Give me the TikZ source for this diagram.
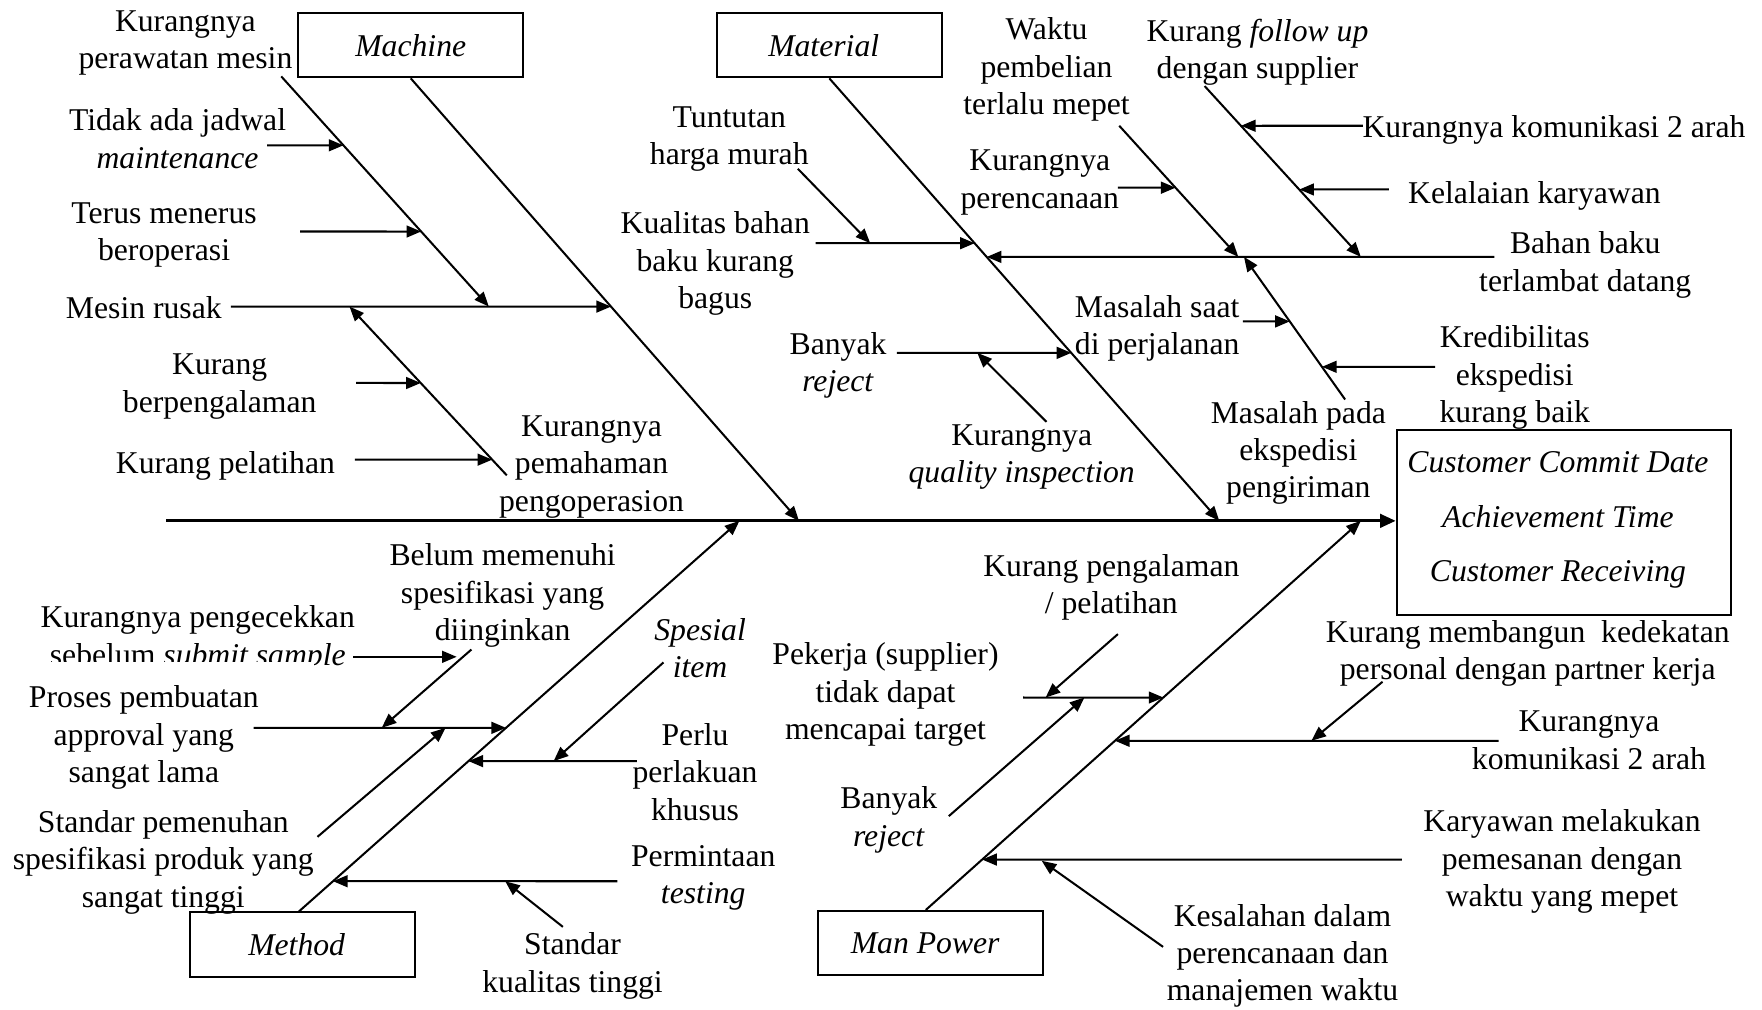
\documentclass[tikz,border=0pt]{standalone}
\usepackage{fontspec}
\setmainfont{Liberation Serif}
\usetikzlibrary{arrows.meta,calc}
\newcommand{\lblfont}{\fontsize{28.2}{33.3}\selectfont}
\newcommand{\efffont}{\fontsize{28.2}{48.5}\selectfont}
\begin{document}
\begin{tikzpicture}[x=1pt,y=-1pt,
  lbl/.style={align=center,inner sep=0pt,font=\lblfont,yshift=-4pt,
    execute at begin node=\strut,execute at end node=\strut},
  catbox/.style={draw,line width=1.8pt,minimum width=200pt,
    minimum height=57pt,inner sep=0pt,font=\lblfont\itshape},
  bone/.style={line width=1.8pt,-{Triangle[length=13pt,width=10.5pt]}},
  spine/.style={line width=2.8pt,-{Triangle[length=14pt,width=12pt]}}]
\useasboundingbox (0,0) rectangle (1568,898);

% ---------- category boxes and effect ----------
\node[catbox] (machine)  at (365.5,40.3) {Machine};
\node[catbox] (material) at (738,40.3)   {\hspace*{-10pt}Material};
\node[catbox] (method)   at (269,840.5)  {\hspace*{-10pt}Method};
\node[catbox] (manpower) at (828.3,839.2) {\hspace*{-10pt}Man Power};
\node[draw,line width=1.8pt,minimum width=297.5pt,minimum height=164.4pt,
      inner sep=0pt] (effect) at (1391.7,465.2) {};
\node[lbl,font=\efffont\itshape] (efftext) at (1386.4,463.2)
  {Customer Commit Date\\Achievement Time\\Customer Receiving};

% ---------- spine ----------
\coordinate (sp0) at (148,463.5);
\coordinate (spT) at (sp0 -| effect.west);
\draw[spine] (sp0) -- (spT);

% ---------- main bones ----------
\coordinate (m0) at (machine.south);
\coordinate (m1) at (711,463.5);
\coordinate (t0) at (material.south);
\coordinate (t1) at (1085,463.5);
\coordinate (d0) at ($(method.north)+(-3,0)$);
\coordinate (d1) at (658,463.5);
\coordinate (p0) at ($(manpower.north)+(-4.5,0)$);
\coordinate (p1) at (1211,463.5);
\draw[bone] (m0) -- (m1);
\draw[bone] (t0) -- (t1);
\draw[bone] (d0) -- (d1);
\draw[bone] (p0) -- (p1);

% ---------- Machine ----------
\node[lbl] (lpw) at (165,36)      {Kurangnya\\perawatan mesin};
\node[lbl] (ltj) at (158,124.3)   {Tidak ada jadwal\\\textit{maintenance}};
\node[lbl] (ltm) at (146,207)     {Terus menerus\\beroperasi};
\node[lbl] (lmr) at (128,272.8)   {Mesin rusak};
\node[lbl] (lkb) at (195.5,342)   {Kurang\\berpengalaman};
\node[lbl] (lkp) at (200.6,410.7) {Kurang pelatihan};
\node[lbl] (lpm) at (526.4,413.2) {Kurangnya\\pemahaman\\pengoperasion};

\coordinate (mr0) at (205.4,272.8); \coordinate (mrh) at (900,272.8);
\coordinate (mrT) at (intersection of mr0--mrh and m0--m1);
\draw[bone] (mr0) -- (mrT);
\coordinate (pw0) at (250.3,68); \coordinate (pwT) at (435,272.8);
\draw[bone] (pw0) -- (pwT);
\coordinate (tj0) at (237.6,129.3); \coordinate (tjh) at (600,129.3);
\coordinate (tjT) at (intersection of tj0--tjh and pw0--pwT);
\draw[bone] (tj0) -- (tjT);
\coordinate (tm0) at (267,206); \coordinate (tmh) at (600,206);
\coordinate (tmT) at (intersection of tm0--tmh and pw0--pwT);
\draw[bone] (tm0) -- (tmT);
\coordinate (pm0) at (451,423); \coordinate (pmT) at (311,272.8);
\draw[bone] (pm0) -- (pmT);
\coordinate (kb0) at (317,340.8); \coordinate (kbh) at (600,340.8);
\coordinate (kbT) at (intersection of kb0--kbh and pm0--pmT);
\draw[bone] (kb0) -- (kbT);
\coordinate (kp0) at (315.8,409); \coordinate (kph) at (600,409);
\coordinate (kpT) at (intersection of kp0--kph and pm0--pmT);
\draw[bone] (kp0) -- (kpT);

% ---------- Material ----------
\node[lbl] (ltt) at (649,121.6)    {Tuntutan\\harga murah};
\node[lbl] (lkq) at (636.5,232.4)  {Kualitas bahan\\baku kurang\\bagus};
\node[lbl] (lbr) at (745.8,323.2)  {Banyak\\\textit{reject}};
\node[lbl] (lqi) at (909.2,404.5)  {Kurangnya\\\textit{quality inspection}};
\node[lbl] (lwp) at (931.3,59.8)   {Waktu\\pembelian\\terlalu mepet};
\node[lbl] (lpr) at (925.3,160.5)  {Kurangnya\\perencanaan};
\node[lbl] (lms) at (1029.8,290)   {Masalah saat\\di perjalanan};
\node[lbl] (lfu) at (1119,44.5)    {Kurang \textit{follow up}\\dengan supplier};
\node[lbl] (lk2) at (1382.9,111.9) {Kurangnya komunikasi 2 arah};
\node[lbl] (lkk) at (1365.5,170)   {Kelalaian karyawan};
\node[lbl] (lbb) at (1410.7,233.7) {Bahan baku\\terlambat datang};
\node[lbl] (lke) at (1348,334)     {Kredibilitas\\ekspedisi\\kurang baik};
\node[lbl] (lmp) at (1155.4,401)   {Masalah pada\\ekspedisi\\pengiriman};

\coordinate (kq0) at (725.9,216.4); \coordinate (kqh) at (1200,216.4);
\coordinate (kqT) at (intersection of kq0--kqh and t0--t1);
\draw[bone] (kq0) -- (kqT);
\coordinate (tt0) at (710,150.2); \coordinate (ttT) at (774.4,216.4);
\draw[bone] (tt0) -- (ttT);
\coordinate (bb0) at (1329.8,228.6); \coordinate (bbh) at (700,228.6);
\coordinate (bbT) at (intersection of bb0--bbh and t0--t1);
\draw[bone] (bb0) -- (bbT);
\coordinate (br0) at (798.2,314); \coordinate (brh) at (1200,314);
\coordinate (brT) at (intersection of br0--brh and t0--t1);
\draw[bone] (br0) -- (brT);
\coordinate (qi0) at (931.3,375.4); \coordinate (qiT) at (869.7,314);
\draw[bone] (qi0) -- (qiT);
\coordinate (wp0) at (996,111.9); \coordinate (wpT) at (1102,228.6);
\draw[bone] (wp0) -- (wpT);
\coordinate (pr0) at (994.8,167); \coordinate (prh) at (1300,167);
\coordinate (prT) at (intersection of pr0--prh and wp0--wpT);
\draw[bone] (pr0) -- (prT);
\coordinate (fu0) at (1072,76.6); \coordinate (fuT) at (1211,228.6);
\draw[bone] (fu0) -- (fuT);
\coordinate (k20) at (1212.7,111.9); \coordinate (k2h) at (900,111.9);
\coordinate (k2T) at (intersection of k20--k2h and fu0--fuT);
\draw[bone] (k20) -- (k2T);
\coordinate (kk0) at (1236,168.6); \coordinate (kkh) at (900,168.6);
\coordinate (kkT) at (intersection of kk0--kkh and fu0--fuT);
\draw[bone] (kk0) -- (kkT);
\coordinate (mp0) at (1197,355.5); \coordinate (mpT) at (1107,228.6);
\draw[bone] (mp0) -- (mpT);
\coordinate (ms0) at (1106,286); \coordinate (msh) at (1400,286);
\coordinate (msT) at (intersection of ms0--msh and mp0--mpT);
\draw[bone] (ms0) -- (msT);
\coordinate (ke0) at (1277,326.4); \coordinate (keh) at (1000,326.4);
\coordinate (keT) at (intersection of ke0--keh and mp0--mpT);
\draw[bone] (ke0) -- (keT);

% ---------- Method ----------
\node[lbl] (lbm) at (447.3,528)   {Belum memenuhi\\spesifikasi yang\\diinginkan};
\begin{scope}
  % the lower line of this label is cut off along its base, up to "sam|ple"
  \clip (0,0) -- (420,0) -- (420,620) -- (279.5,620) -- (279.5,588.8)
        -- (0,588.8) -- cycle;
  \node[lbl] (lpc) at (176,566.4) {Kurangnya pengecekkan\\sebelum \textit{submit sample}};
\end{scope}
\node[lbl] (lpp) at (128,654.5)   {Proses pembuatan\\approval yang\\sangat lama};
\node[lbl] (lsp) at (145.3,765.2) {Standar pemenuhan\\spesifikasi produk yang\\sangat tinggi};
\node[lbl] (lsi) at (623,577.8)   {\textit{Spesial}\\\textit{item}};
\node[lbl] (lpl) at (618.5,687.8) {Perlu\\perlakuan\\khusus};
\node[lbl] (lpt) at (625.8,779.3) {Permintaan\\\textit{testing}};
\node[lbl] (lsk) at (509.5,857.4) {Standar\\kualitas tinggi};

\coordinate (pp0) at (225.7,647.7); \coordinate (pph) at (700,647.7);
\coordinate (ppT) at (intersection of pp0--pph and d0--d1);
\draw[bone] (pp0) -- (ppT);
\coordinate (bm0) at (419.5,578); \coordinate (bmT) at (339.7,647.7);
\draw[bone] (bm0) -- (bmT);
\coordinate (pc0) at (314.3,584.5); \coordinate (pcT) at (406.4,584.5);
\draw[bone] (pc0) -- (pcT);
\coordinate (sp1) at (282.5,744.7); \coordinate (spE) at (396.5,647.7);
\draw[bone] (sp1) -- (spE);
\coordinate (pl0) at (566.8,677.3); \coordinate (plh) at (200,677.3);
\coordinate (plT) at (intersection of pl0--plh and d0--d1);
\draw[bone] (pl0) -- (plT);
\coordinate (si0) at (590.4,589.5); \coordinate (siT) at (492.7,677.3);
\draw[bone] (si0) -- (siT);
\coordinate (pt0) at (549.5,784.2); \coordinate (pth) at (100,784.2);
\coordinate (ptT) at (intersection of pt0--pth and d0--d1);
\draw[bone] (pt0) -- (ptT);
\coordinate (sk0) at (500.9,824.8); \coordinate (skT) at (449.6,784.2);
\draw[bone] (sk0) -- (skT);

% ---------- Man Power ----------
\node[lbl] (lpg) at (989,520.7)    {Kurang pengalaman\\/ pelatihan};
\node[lbl] (lps) at (788,616.2)    {Pekerja (supplier)\\tidak dapat\\mencapai target};
\node[lbl] (lbj) at (791,727.7)    {Banyak\\\textit{reject}};
\node[lbl] (lkd) at (1359.5,579.3) {Kurang membangun\ \ kedekatan\\personal dengan partner kerja};
\node[lbl] (lkm) at (1414,659.6)   {Kurangnya\\komunikasi 2 arah};
\node[lbl] (lkw) at (1390,764.8)   {Karyawan melakukan\\pemesanan dengan\\waktu yang mepet};
\node[lbl] (lks) at (1141.3,848.6) {Kesalahan dalam\\perencanaan dan\\manajemen waktu};

\coordinate (ps0) at (910.4,620.7); \coordinate (psh) at (1300,620.7);
\coordinate (psT) at (intersection of ps0--psh and p0--p1);
\draw[bone] (ps0) -- (psT);
\coordinate (pg0) at (994.8,564.3); \coordinate (pgT) at (930.5,620.7);
\draw[bone] (pg0) -- (pgT);
\coordinate (bj0) at (844.3,726.3); \coordinate (bjT) at (965,620.7);
\draw[bone] (bj0) -- (bjT);
\coordinate (km0) at (1333.7,659.2); \coordinate (kmh) at (800,659.2);
\coordinate (kmT) at (intersection of km0--kmh and p0--p1);
\draw[bone] (km0) -- (kmT);
\coordinate (kd0) at (1230.3,606.7); \coordinate (kdT) at (1167,659.2);
\draw[bone] (kd0) -- (kdT);
\coordinate (kw0) at (1247.5,764.9); \coordinate (kwh) at (700,764.9);
\coordinate (kwT) at (intersection of kw0--kwh and p0--p1);
\draw[bone] (kw0) -- (kwT);
\coordinate (ks0) at (1035,842.6); \coordinate (ksT) at (927,766);
\draw[bone] (ks0) -- (ksT);
\end{tikzpicture}
\end{document}
